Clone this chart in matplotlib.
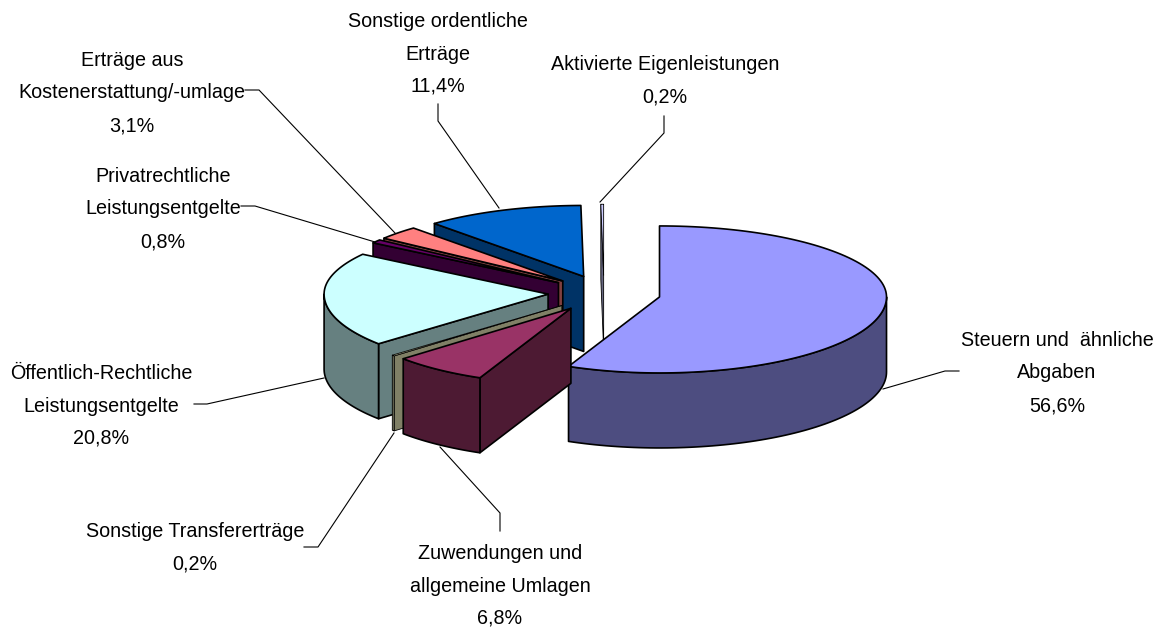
import numpy as np
import matplotlib
matplotlib.use("Agg")
import matplotlib.pyplot as plt
from matplotlib.patches import Polygon

categories = ["Steuern und  ähnliche\nAbgaben", "Zuwendungen und\nallgemeine Umlagen",
              "Sonstige Transfererträge", "Öffentlich-Rechtliche\nLeistungsentgelte",
              "Privatrechtliche\nLeistungsentgelte", "Erträge aus\nKostenerstattung/-umlage",
              "Sonstige ordentliche\nErträge", "Aktivierte Eigenleistungen"]
values = [56.6, 6.8, 0.2, 20.8, 0.8, 3.1, 11.4, 0.2]
top_colors = ["#9999FF", "#993366", "#FFFFCC", "#CCFFFF", "#660066", "#FF8080", "#0066CC", "#CCCCFF"]
side_colors = ["#4D4D80", "#4D1A33", "#808066", "#668080", "#330033", "#804040", "#003366", "#666680"]

# label anchor (centre) and leader-line paths, in pixels
label_xy = [(1057, 373), (500, 586), (195, 548), (101, 406), (163, 209), (132, 93), (438, 54), (665, 81)]
leaders = [[(959, 371), (945, 371), (883, 389)],
           [(500, 531), (500, 513), (440, 447)],
           [(304, 547), (318, 547), (394, 433)],
           [(194, 404), (207, 404), (324, 378)],
           [(241, 206), (255, 206), (375, 242)],
           [(245, 90), (259, 90), (395, 233)],
           [(438, 104), (438, 121), (499, 208)],
           [(664, 116), (664, 133), (600, 202)]]

CX, CY, RX_RIGHT, RX_LEFT, RY_BACK, RY_FRONT, DEPTH, EXPLODE = 604, 293, 227, 224, 71, 76, 75, 0.25

plt.rcParams['font.family'] = ['Liberation Sans', 'DejaVu Sans']
fig = plt.figure(figsize=(11.61, 6.30), dpi=100)
ax = fig.add_axes([0, 0, 1, 1])
ax.set_xlim(0, 1161)
ax.set_ylim(630, 0)
ax.axis("off")


def offset(a):
    """Unit-pie angle (clockwise from top, radians) to pixel offset."""
    a = np.asarray(a, dtype=float)
    c = np.cos(a)
    s = np.sin(a)
    ry = np.where(c < 0, RY_FRONT, RY_BACK)
    rx = np.where(s < 0, RX_LEFT, RX_RIGHT)
    return rx * s, -ry * c


def wall_visible(a, outward_sign):
    """A radial wall shows if its outward normal points down the screen."""
    dx, dy = offset(a)
    tx, ty = offset(a + outward_sign * 1e-3)
    tx, ty = tx - dx, ty - dy
    nx, ny = -dy, dx
    if nx * tx + ny * ty < 0:
        nx, ny = -nx, -ny
    return ny > 1e-6


total = sum(values)
edges = np.cumsum([0] + values) / total * 2 * np.pi
slices = []
for i, v in enumerate(values):
    a0, a1 = edges[i], edges[i + 1]
    dx, dy = offset((a0 + a1) / 2)
    slices.append((float(CY + EXPLODE * dy), i, CX + EXPLODE * float(dx), CY + EXPLODE * float(dy), a0, a1))
slices.sort()

z = 2
for _, i, ax0, ay0, a0, a1 in slices:
    style = dict(edgecolor="black", linewidth=0.6 if values[i] < 0.5 else 1.2, joinstyle="round")
    # radial walls that face the viewer
    for a, sign in ((a0, -1), (a1, 1)):
        if not wall_visible(a, sign):
            continue
        dx, dy = offset(a)
        dx, dy = float(dx), float(dy)
        pts = [(ax0, ay0), (ax0 + dx, ay0 + dy), (ax0 + dx, ay0 + dy + DEPTH), (ax0, ay0 + DEPTH)]
        ax.add_patch(Polygon(pts, closed=True, facecolor=side_colors[i], zorder=z, **style))
        z += 1
    # outer wall (front half only)
    lo, hi = max(a0, np.pi / 2), min(a1, 3 * np.pi / 2)
    if hi > lo:
        t = np.linspace(lo, hi, 80)
        dx, dy = offset(t)
        upper = np.column_stack([ax0 + dx, ay0 + dy])
        lower = upper[::-1] + [0, DEPTH]
        ax.add_patch(Polygon(np.vstack([upper, lower]), closed=True, facecolor=side_colors[i], zorder=z, **style))
        z += 1
    # top face
    t = np.linspace(a0, a1, 120)
    dx, dy = offset(t)
    pts = np.vstack([[ax0, ay0], np.column_stack([ax0 + dx, ay0 + dy])])
    ax.add_patch(Polygon(pts, closed=True, facecolor=top_colors[i], zorder=z, **style))
    z += 1

for cat, v, (x, y), path in zip(categories, values, label_xy, leaders):
    label = f"{cat}\n{v:.1f}%".replace(".", ",")
    ax.text(x, y, label, ha="center", va="center", fontsize=14.2, color="black",
            linespacing=1.9, zorder=z + 1)
    xs, ys = zip(*path)
    ax.plot(xs, ys, color="black", lw=0.8, zorder=z, solid_joinstyle="miter")

fig.savefig("out.png", dpi=100)
